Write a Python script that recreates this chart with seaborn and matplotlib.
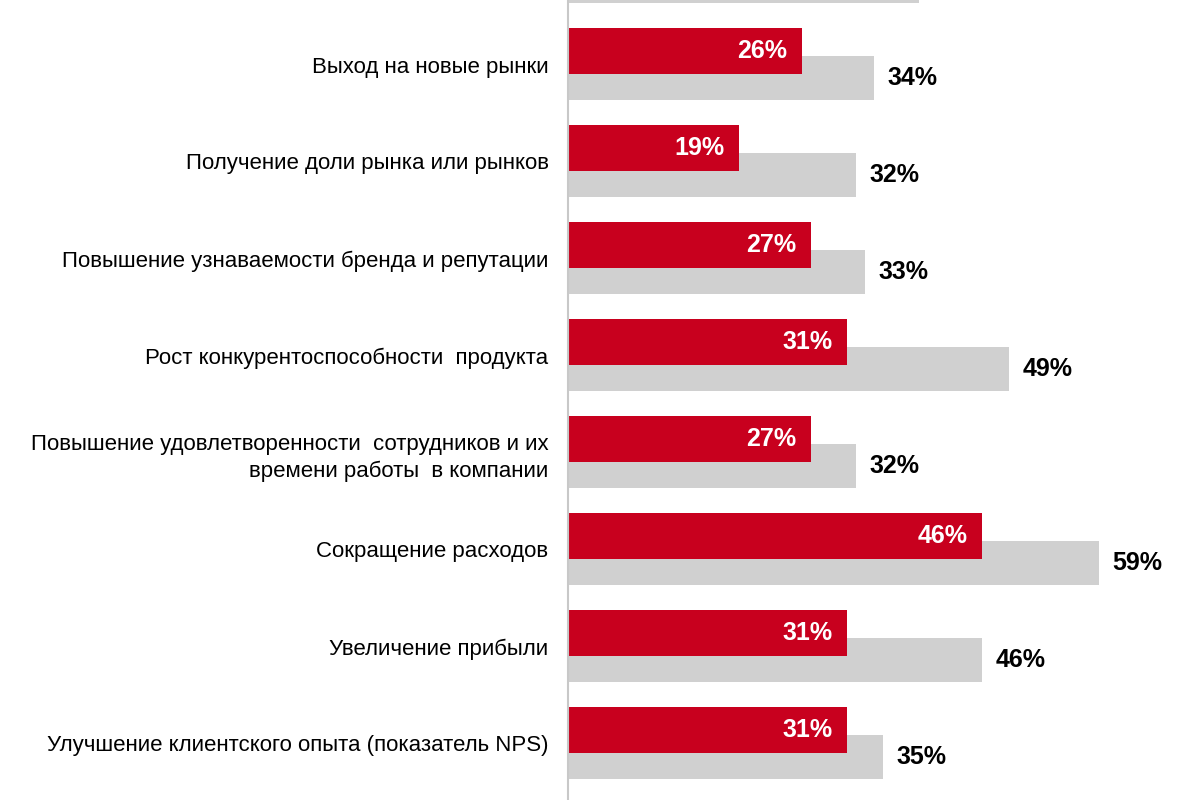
import numpy as np
import pandas as pd
import matplotlib
matplotlib.use("Agg")
import matplotlib.pyplot as plt
import seaborn as sns

# rows top to bottom; the first row is cut off at the top edge of the picture
labels = [
    "",
    "Выход на новые рынки",
    "Получение доли рынка или рынков",
    "Повышение узнаваемости бренда и репутации",
    "Рост конкурентоспособности  продукта",
    "Повышение удовлетворенности  сотрудников и их\nвремени работы  в компании",
    "Сокращение расходов",
    "Увеличение прибыли",
    "Улучшение клиентского опыта (показатель NPS)",
]
red_values = [np.nan, 26, 19, 27, 31, 27, 46, 31, 31]
grey_values = [39, 34, 32, 33, 49, 32, 59, 46, 35]

RED = "#C8001E"
GREY = "#D0D0D0"
GREY_SHIFT = 0.278  # grey bar sits a bit lower than the red one

sns.set_style("white")
plt.rcParams["font.family"] = ["Liberation Sans", "DejaVu Sans"]

pos = np.arange(len(labels))
red_df = pd.DataFrame({"pos": pos, "value": red_values}).dropna()
grey_df = pd.DataFrame({"pos": pos + GREY_SHIFT, "value": grey_values,
                        "label": labels})

fig = plt.figure(figsize=(12, 8), dpi=100)
ax = fig.add_axes([568 / 1200, 0, 630 / 1200, 1])

sns.barplot(data=grey_df, x="value", y="pos", orient="y", native_scale=True,
            width=0.454, color=GREY, saturation=1, errorbar=None,
            linewidth=0, ax=ax)
sns.barplot(data=red_df, x="value", y="pos", orient="y", native_scale=True,
            width=0.474, color=RED, saturation=1, errorbar=None,
            linewidth=0, ax=ax)

for p, v in zip(red_df["pos"], red_df["value"]):
    ax.text(v - 1.6, p, f"{v:.0f}%", ha="right", va="center", color="white",
            fontsize=18, fontweight="bold")
# the cut-off top row has no visible value label
for p, v, lab in zip(grey_df["pos"], grey_df["value"], grey_df["label"]):
    if lab == "":
        continue
    ax.text(v + 1.5, p, f"{v:.0f}%", ha="left", va="center", color="black",
            fontsize=18, fontweight="bold")

ax.set_yticks(pos + GREY_SHIFT / 2, labels)
for t in ax.get_yticklabels():
    t.set_linespacing(1.35)
ax.tick_params(axis="y", length=0, pad=14, labelsize=16, labelcolor="black")
ax.set_xticks([])
ax.set_xlim(0, 70)
ax.set_ylim(8.722, 0.474)
ax.set_xlabel("")
ax.set_ylabel("")
for s in ["top", "right", "bottom"]:
    ax.spines[s].set_visible(False)
ax.spines["left"].set_color("#C8C8C8")
ax.spines["left"].set_linewidth(1.5)

fig.savefig("out.png", dpi=100)
